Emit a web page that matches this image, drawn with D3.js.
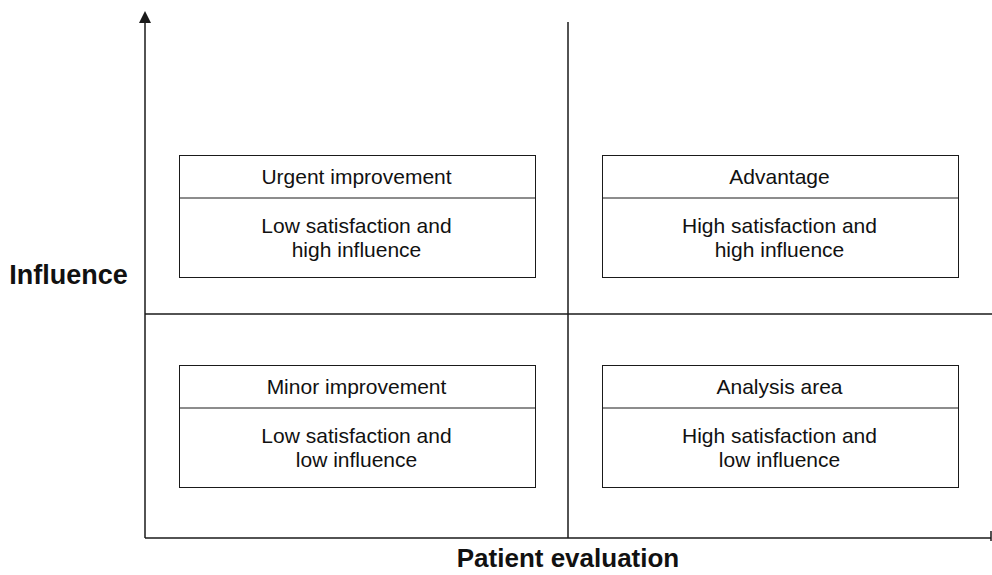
<!DOCTYPE html>
<html>
<head>
<meta charset="utf-8">
<script src="https://cdn.jsdelivr.net/npm/d3@7.9.0/dist/d3.min.js"></script>
<style>
  body { margin: 0; background: #fff; }
  svg { display: block; font-family: "Liberation Sans", Arial, sans-serif; }
</style>
</head>
<body>
<svg id="chart" width="992" height="575"></svg>
<script>
// quadrant data
const quadrantTitles = ["Urgent improvement", "Advantage", "Minor improvement", "Analysis area"];
const quadrantLines = [
    ["Low satisfaction and", "high influence"],
    ["High satisfaction and", "high influence"],
    ["Low satisfaction and", "low influence"],
    ["High satisfaction and", "low influence"]
];
const quadrantCol = [0, 1, 0, 1];   // 0 = low satisfaction, 1 = high
const quadrantRow = [1, 1, 0, 0];   // 0 = low influence, 1 = high
const xLabel = "Patient evaluation";
const yLabel = "Influence";

const svg = d3.select("#chart");
const ink = "#1a1a1a";

// scales: two columns, two rows
const xScale = d3.scaleLinear().domain([0, 2]).range([145, 991]);
const yScale = d3.scaleLinear().domain([0, 2]).range([538, 90]);

// y axis with arrow head
svg.append("line")
    .attr("x1", xScale(0)).attr("x2", xScale(0))
    .attr("y1", yScale(0)).attr("y2", 23)
    .attr("stroke", ink).attr("stroke-width", 1.5);
svg.append("path")
    .attr("d", `M${xScale(0) - 6},23 L${xScale(0)},11 L${xScale(0) + 6},23 Z`)
    .attr("fill", ink);

// x axis with end tick
svg.append("line")
    .attr("x1", xScale(0)).attr("x2", xScale(2))
    .attr("y1", yScale(0)).attr("y2", yScale(0))
    .attr("stroke", ink).attr("stroke-width", 1.5);
svg.append("line")
    .attr("x1", xScale(2)).attr("x2", xScale(2))
    .attr("y1", yScale(0) - 7).attr("y2", yScale(0) + 3)
    .attr("stroke", ink).attr("stroke-width", 1.5);

// quadrant dividers
svg.append("line")
    .attr("x1", xScale(1)).attr("x2", xScale(1))
    .attr("y1", 22).attr("y2", yScale(0))
    .attr("stroke", ink).attr("stroke-width", 1.5);
svg.append("line")
    .attr("x1", xScale(0)).attr("x2", 992)
    .attr("y1", yScale(1)).attr("y2", yScale(1))
    .attr("stroke", ink).attr("stroke-width", 1.5);

// boxes
const boxW = 356, boxH = 122, headH = 42.5;
const boxTop = r => r === 1 ? yScale(1) - 159.5 : yScale(1) + 50.5;

quadrantTitles.forEach((title, i) => {
    const cx = (xScale(quadrantCol[i]) + xScale(quadrantCol[i] + 1)) / 2;
    const x0 = Math.round(cx - boxW / 2) + 0.5;
    const y0 = Math.round(boxTop(quadrantRow[i])) + 0.5;
    const g = svg.append("g");

    g.append("rect")
        .attr("x", x0).attr("y", y0)
        .attr("width", boxW).attr("height", boxH)
        .attr("fill", "#fff").attr("stroke", ink).attr("stroke-width", 1);
    g.append("line")
        .attr("x1", x0).attr("x2", x0 + boxW)
        .attr("y1", y0 + headH).attr("y2", y0 + headH)
        .attr("stroke", ink).attr("stroke-width", 1);

    g.append("text")
        .attr("x", cx).attr("y", y0 + 28.5)
        .attr("text-anchor", "middle")
        .attr("font-size", 21).attr("fill", "#111")
        .text(title);

    quadrantLines[i].forEach((line, j) => {
        g.append("text")
            .attr("x", cx).attr("y", y0 + 77.5 + j * 24)
            .attr("text-anchor", "middle")
            .attr("font-size", 21).attr("fill", "#111")
            .text(line);
    });
});

// axis labels
svg.append("text")
    .attr("x", 68.5).attr("y", 284)
    .attr("text-anchor", "middle")
    .attr("font-size", 27).attr("font-weight", "bold").attr("fill", "#111")
    .text(yLabel);
svg.append("text")
    .attr("x", xScale(1)).attr("y", 567)
    .attr("text-anchor", "middle")
    .attr("font-size", 26).attr("font-weight", "bold").attr("fill", "#111")
    .text(xLabel);
</script>
</body>
</html>
